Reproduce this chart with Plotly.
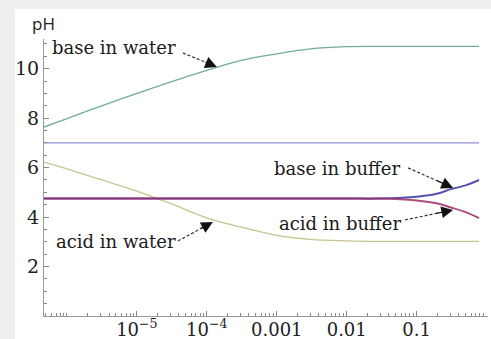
import numpy as np
import plotly.graph_objects as go

# ---- data ----
conc = [4.7e-7, 1e-6, 3e-6, 1e-5, 3e-5, 1e-4, 3e-4, 1e-3, 3e-3, 1e-2, 3e-2,
        0.1, 0.2, 0.3, 0.5, 0.78]
base_water = [7.64, 7.98, 8.48, 9.0, 9.46, 9.93, 10.33, 10.6, 10.8, 10.89, 10.9,
              10.9, 10.9, 10.9, 10.9, 10.9]
acid_water = [6.22, 5.95, 5.52, 5.05, 4.55, 3.97, 3.6, 3.26, 3.1, 3.04, 3.02,
              3.02, 3.02, 3.02, 3.02, 3.02]
neutral = [7.0] * 16
base_buffer = [4.75] * 11 + [4.82, 4.95, 5.12, 5.28, 5.5]
acid_buffer = [4.75] * 11 + [4.67, 4.55, 4.4, 4.2, 3.96]

x_tickvals = [1e-5, 1e-4, 1e-3, 1e-2, 1e-1]
x_ticktext = ["10<sup>\u22125</sup>", "10<sup>\u22124</sup>", "0.001", "0.01", "0.1"]
y_tickvals = [2, 4, 6, 8, 10]

# labels: (text, text pos [log10 x, pH], arrow tip [log10 x, pH], tail offset px (dx right, dy down))
labels = [
    ("base in water", (-5.33, 10.84), (-3.856, 10.07), (-34, -14)),
    ("acid in water", (-5.30, 3.02), (-3.913, 3.80), (-35, 19)),
    ("base in buffer", (-2.14, 5.95), (-0.479, 5.18), (-45, -20)),
    ("acid in buffer", (-2.10, 3.76), (-0.479, 4.29), (-48, 10)),
]

W, H = 491, 339
ML, MR, MT, MB = 44, 3, 39, 23
pw, ph = W - ML - MR, H - MT - MB
xr = [np.log10(4.7e-7), 0.02]
yr = [0, 11.2]
px_dec = pw / (xr[1] - xr[0])
px_ph = ph / (yr[1] - yr[0])


def to_paper(lx, py):
    return (lx - xr[0]) / (xr[1] - xr[0]), (py - yr[0]) / (yr[1] - yr[0])


fig = go.Figure()
fig.add_trace(go.Scatter(x=conc, y=neutral, mode="lines",
                         line=dict(color="#8c92d4", width=1.2), hoverinfo="skip"))
fig.add_trace(go.Scatter(x=conc, y=base_water, mode="lines", line_shape="spline",
                         line=dict(color="#72ad95", width=1.3), hoverinfo="skip"))
fig.add_trace(go.Scatter(x=conc, y=acid_water, mode="lines", line_shape="spline",
                         line=dict(color="#c9c38f", width=1.3), hoverinfo="skip"))
fig.add_trace(go.Scatter(x=conc, y=base_buffer, mode="lines", line_shape="spline",
                         line=dict(color="#5552b0", width=2), hoverinfo="skip"))
fig.add_trace(go.Scatter(x=conc, y=acid_buffer, mode="lines", line_shape="spline",
                         line=dict(color="#9c2f6c", width=2), opacity=0.85,
                         hoverinfo="skip"))

font_lbl = dict(family="DejaVu Serif", size=18, color="#1a1a1a")
annotations = []
shapes = [dict(type="rect", xref="paper", yref="paper",
               x0=(15 - ML) / pw, x1=1.05, y0=-0.2, y1=(H - MB - 9) / ph,
               fillcolor="white", line=dict(width=0), layer="below")]
for text, (tx, ty), (hx, hy), (dx, dy) in labels:
    annotations.append(dict(x=tx, y=ty, xref="x", yref="y", text=text,
                            showarrow=False, font=font_lbl))
    # dashed shaft (tail -> near tip), in paper coordinates
    x0, y0 = to_paper(hx + dx / px_dec, hy - dy / px_ph)
    x1, y1 = to_paper(hx + 0.3 * dx / px_dec, hy - 0.3 * dy / px_ph)
    shapes.append(dict(type="line", xref="paper", yref="paper",
                       x0=x0, y0=y0, x1=x1, y1=y1,
                       line=dict(color="#333333", width=1.2, dash="3px,2px")))
    # arrow head
    annotations.append(dict(x=hx, y=hy, xref="x", yref="y", text="",
                            showarrow=True, arrowhead=2, arrowsize=1.8,
                            arrowwidth=1.3, arrowcolor="#111111",
                            ax=0.38 * dx, ay=0.38 * dy, standoff=0))

annotations.append(dict(x=(43 - ML) / pw, y=(H - MB - 23) / ph, xref="paper",
                        yref="paper", text="pH", showarrow=False,
                        xanchor="center", yanchor="middle",
                        font=dict(family="Open Sans", size=17, color="#222")))

tickfont = dict(family="DejaVu Serif", size=19, color="#222")
xtickfont = dict(family="DejaVu Serif", size=18, color="#222")
fig.update_layout(
    width=W, height=H,
    margin=dict(l=ML, r=MR, t=MT, b=MB, autoexpand=False),
    paper_bgcolor="#efefef", plot_bgcolor="white",
    showlegend=False,
    annotations=annotations, shapes=shapes,
    xaxis=dict(type="log", range=xr, automargin=False,
               tickvals=x_tickvals, ticktext=x_ticktext,
               ticks="inside", ticklen=5, tickcolor="#888", tickwidth=1,
               ticklabelstandoff=-3,
               showline=True, linecolor="#999", linewidth=1,
               showgrid=False, zeroline=False, tickfont=xtickfont,
               minor=dict(ticks="inside", ticklen=3, tickcolor="#888",
                          tickvals=[m * 10.0 ** e for e in range(-7, 1)
                                    for m in range(2, 10)] + [1e-6],
                          showgrid=False)),
    yaxis=dict(range=yr, tickvals=y_tickvals, automargin=False,
               ticks="inside", ticklen=5, tickcolor="#888", tickwidth=1,
               showline=True, linecolor="#999", linewidth=1,
               showgrid=False, zeroline=False, tickfont=tickfont,
               minor=dict(ticks="inside", ticklen=3, tickcolor="#888",
                          dtick=0.5, showgrid=False)),
)

fig.write_html("out.html", config={"displayModeBar": False},
               post_script="document.body.style.margin='0';document.body.style.padding='0';")
